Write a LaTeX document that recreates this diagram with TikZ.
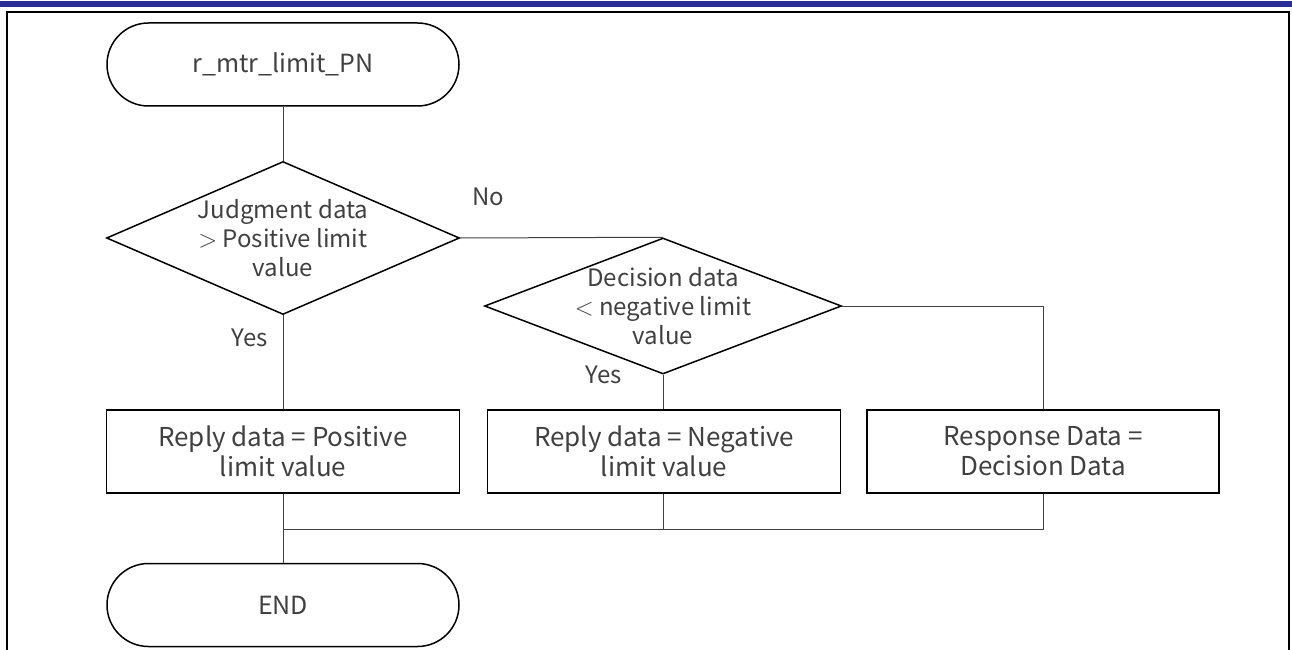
\documentclass[tikz,border=0pt]{standalone}
\usepackage{fontspec}
\setmainfont{Noto Sans CJK JP}
\usepackage{tikz}
\usetikzlibrary{shapes.geometric,shapes.misc}

\definecolor{bar}{RGB}{44,44,150}
\definecolor{ink}{RGB}{64,64,64}

\begin{document}
\begin{tikzpicture}[x=1pt,y=1pt,
  font=\fontsize{24}{29}\selectfont,
  term/.style={rounded rectangle,draw=black,line width=1.5pt,minimum width=352pt,minimum height=83pt,text=ink,inner sep=0pt,font=\fontsize{25}{30}\selectfont},
  cond/.style={diamond,draw=black,line width=1.5pt,inner sep=0pt,aspect=2.3},
  condtext/.style={text=ink,align=center,inner sep=0pt},
  proc/.style={rectangle,draw=black,line width=1.5pt,minimum width=353pt,minimum height=83pt,text=ink,align=center,inner sep=0pt,font=\fontsize{26}{30}\selectfont},
  flow/.style={draw=ink,line width=1pt},
  lbl/.style={text=ink}]

\useasboundingbox (0,0) rectangle (1292,-650);

% page frame
\fill[bar] (0,-1) rectangle (1292,-7);
\draw[line width=1.5pt] (7,-652)--(7,-12)--(1289,-12)--(1289,-652);

\def\cx{283};\def\mx{663};\def\rx{1043};

\node[term] (start) at (\cx,-64.5) {r\_mtr\_limit\_PN};
\node[cond,minimum width=353pt,minimum height=153pt] (d1) at (\cx,-238) {};
\node[condtext] (d1t) at (d1) {Judgment data\\ $>$ Positive limit\\ value};
\node[cond,minimum width=357pt,minimum height=136pt] (d2) at (\mx,-306) {};
\node[condtext] (d2t) at (d2) {Decision data\\ $<$ negative limit\\ value};

\node[proc] (b1) at (\cx,-451.5) {Reply data = Positive\\ limit value};
\node[proc] (b2) at (\mx+1,-451.5) {Reply data = Negative\\ limit value};
\node[proc,minimum width=352pt] (b3) at (\rx,-451.5) {Response Data =\\ Decision Data};

\node[term] (end) at (\cx,-605) {END};

\node[lbl] (no) at (488,-197) {No};
\node[lbl] (yes1) at (250,-338) {Yes};
\node[lbl] (yes2) at (604,-375) {Yes};

\coordinate (join) at (\cx,-529);

\draw[flow] (start.south)--(d1.north);
\draw[flow] (d1.east)--(d2.north);
\draw[flow] (d2.east)-|(b3.north);
\draw[flow] (d1.south)--(b1.north);
\draw[flow] (d2.south)--(d2.south|-b2.north);
\draw[flow] (b1.south)--(end.north);
\draw[flow] (b3.south)|-(join);
\draw[flow] (d2.south|-b2.south)--(d2.south|-join);

\end{tikzpicture}
\end{document}
